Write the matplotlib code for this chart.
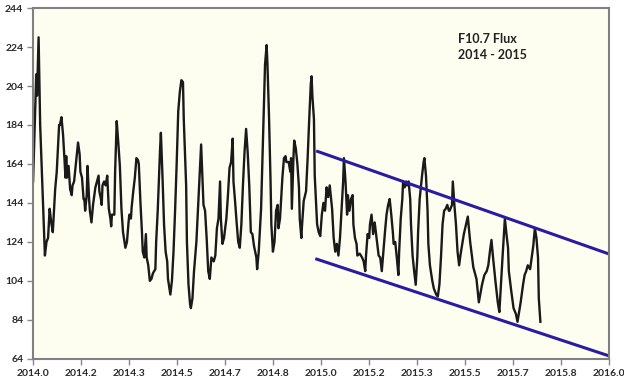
import matplotlib
matplotlib.use("Agg")
import matplotlib.pyplot as plt
import numpy as np

# F10.7 flux: day counted from 2014-01-01, value in sfu
days = [0, 3, 4, 5, 7, 9, 12, 15, 17, 19, 21, 23, 25, 28, 30, 33, 34, 36, 38, 40,
        41, 42, 43, 45, 47, 49, 50, 52, 55, 57, 59, 60, 62, 64, 65, 66, 68, 69, 71, 72,
        74, 76, 79, 81, 83, 84, 86, 87, 88, 90, 92, 94, 96, 98, 99, 100, 103, 104, 106, 108,
        110, 112, 114, 117, 119, 121, 122, 124, 125, 127, 129, 131, 133, 134, 136, 138, 139, 141, 143, 144,
        146, 148, 150, 152, 155, 156, 158, 160, 161, 162, 164, 166, 168, 170, 171, 174, 176, 178, 180, 182,
        184, 186, 188, 190, 191, 194, 195, 197, 199, 200, 202, 204, 207, 209, 211, 213, 216, 218, 220, 222,
        224, 226, 229, 231, 233, 235, 237, 238, 240, 242, 245, 247, 249, 251, 253, 254, 256, 258, 260, 262,
        264, 266, 268, 270, 272, 274, 276, 278, 280, 283, 284, 286, 289, 291, 293, 294, 296, 297, 299, 301,
        302, 304, 306, 308, 310, 311, 313, 315, 316, 318, 320, 321, 324, 326, 327, 328, 330, 331, 333, 335,
        337, 338, 340, 341, 343, 346, 348, 350, 352, 353, 354, 356, 357, 360, 362, 364, 366, 368, 370, 372,
        374, 376, 379, 381, 383, 385, 387, 389, 391, 393, 394, 396, 398, 399, 401, 403, 405, 406, 408, 410,
        411, 414, 417, 419, 421, 422, 424, 426, 427, 429, 431, 433, 436, 438, 440, 442, 444, 446, 448, 450,
        452, 454, 456, 457, 459, 461, 463, 464, 466, 468, 469, 471, 473, 474, 476, 478, 479, 481, 483, 485,
        487, 488, 490, 493, 495, 496, 498, 500, 501, 503, 506, 508, 511, 513, 515, 517, 519, 521, 523, 525,
        527, 528, 531, 532, 534, 536, 538, 540, 542, 546, 551, 554, 558, 562, 565, 569, 572, 575, 577, 579,
        581, 583, 586, 589, 591, 593, 595, 597, 598, 600, 602, 603, 606, 609, 612, 614, 616, 618, 621, 623,
        625, 627, 630, 632, 634, 636, 638, 640, 641, 643]
flux = [155, 197, 210, 199, 229, 184, 150, 117, 124, 126, 141, 134, 129, 151, 160, 184, 184, 188, 179, 165,
        157, 168, 157, 163, 151, 148, 153, 155, 167, 175, 169, 160, 157, 146, 146, 140, 148, 163, 146, 140,
        134, 143, 152, 155, 158, 150, 146, 143, 153, 155, 153, 158, 141, 136, 132, 138, 138, 160, 186, 175,
        163, 141, 129, 121, 124, 134, 138, 136, 142, 150, 157, 167, 166, 164, 145, 129, 119, 116, 128, 116,
        112, 104, 105, 108, 110, 124, 140, 162, 172, 180, 158, 133, 119, 114, 105, 97, 104, 119, 140, 164,
        191, 201, 207, 206, 187, 153, 124, 102, 92, 90, 95, 109, 124, 141, 158, 174, 143, 140, 126, 109,
        105, 116, 114, 117, 131, 136, 155, 136, 123, 126, 136, 148, 162, 165, 177, 155, 145, 134, 124, 121,
        133, 153, 170, 182, 170, 153, 129, 128, 122, 116, 110, 119, 141, 170, 199, 215, 225, 216, 189, 155,
        133, 119, 124, 140, 143, 131, 136, 150, 157, 167, 168, 165, 165, 160, 167, 141, 167, 176, 172, 164,
        152, 136, 126, 133, 145, 150, 167, 187, 205, 209, 199, 187, 158, 133, 129, 127, 138, 144, 140, 152,
        147, 153, 141, 126, 119, 123, 117, 126, 141, 155, 167, 155, 138, 148, 140, 146, 148, 133, 126, 123,
        117, 118, 116, 114, 109, 117, 128, 126, 133, 138, 128, 134, 124, 117, 116, 109, 119, 129, 138, 143,
        146, 138, 129, 123, 124, 116, 107, 119, 136, 146, 155, 152, 155, 153, 155, 146, 133, 117, 109, 102,
        116, 129, 146, 158, 165, 167, 158, 140, 123, 112, 104, 100, 97, 96, 102, 116, 133, 140, 141, 143,
        140, 140, 143, 155, 143, 133, 119, 112, 118, 128, 137, 124, 111, 105, 93, 102, 107, 109, 112, 119,
        125, 116, 104, 93, 88, 102, 116, 129, 136, 128, 121, 109, 99, 90, 87, 83, 88, 93, 102, 107,
        109, 112, 110, 116, 122, 131, 126, 116, 95, 83]

# channel lines drawn on the 2015 decline
upper_x = [2014.983, 2016.0]
upper_y = [170.7, 117.8]
lower_x = [2014.98, 2016.0]
lower_y = [115.4, 65.5]

xticks = [2014 + k / 6.0 for k in range(13)]
xtick_labels = ["2014.0", "2014.2", "2014.3", "2014.5", "2014.7", "2014.8", "2015.0",
                "2015.2", "2015.3", "2015.5", "2015.7", "2015.8", "2016.0"]
yticks = list(range(64, 245, 20))

years = 2014 + np.array(days) / 365.0

fig = plt.figure(figsize=(6.24, 3.85), dpi=100)
ax = fig.add_axes([0.053, 0.068, 0.923, 0.911])
ax.set_facecolor("#FEFEF0")

ax.plot(years, flux, color="#1a1a1a", lw=1.7, solid_joinstyle="round")
ax.plot(upper_x, upper_y, color="#2A1CA0", lw=2.2, solid_capstyle="butt")
ax.plot(lower_x, lower_y, color="#2A1CA0", lw=2.2, solid_capstyle="butt")

ax.set_xlim(2014.0, 2016.0)
ax.set_ylim(64, 244)
ax.set_xticks(xticks)
ax.set_xticklabels(xtick_labels)
ax.set_yticks(yticks)

for lab in ax.get_xticklabels() + ax.get_yticklabels():
    lab.set_fontfamily("Lato")
    lab.set_fontweight("bold")
    lab.set_fontsize(7.5)
    lab.set_color("#2a2a2a")

ax.tick_params(axis="both", direction="out", length=4, width=1, color="#888888", pad=3)

for s in ax.spines.values():
    s.set_color("#808080")
    s.set_linewidth(1.5)

ax.text(2015.475, 231, "F10.7 Flux\n2014 - 2015", fontfamily="Lato", fontweight="bold",
        fontsize=9, color="#222222", va="top", ha="left", linespacing=1.4)

fig.savefig("out.png", dpi=100, facecolor="white")
